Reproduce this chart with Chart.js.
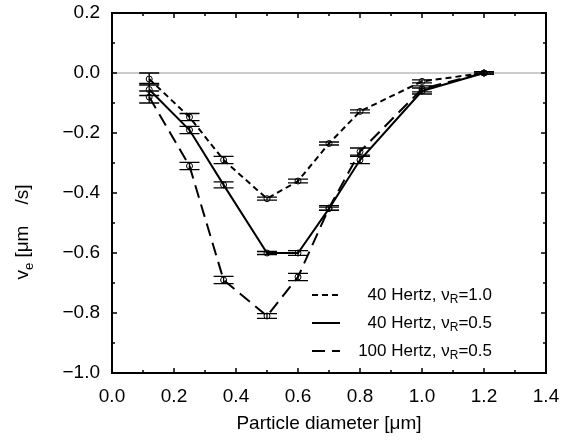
<!DOCTYPE html>
<html>
<head>
<meta charset="utf-8">
<script src="https://cdn.jsdelivr.net/npm/chart.js@4.4.1/dist/chart.umd.min.js"></script>
<style>
  html, body { margin: 0; padding: 0; background: #fff; }
  #wrap { width: 576px; height: 441px; }
</style>
</head>
<body>
<div id="wrap"><canvas id="chart" width="576" height="441"></canvas></div>
<script>
// particle diameter in micrometres
const diameter = [0.12, 0.25, 0.36, 0.5, 0.6, 0.7, 0.8, 1.0, 1.2];

// electrophoretic velocity, um/s
const v40Hz_10 = [-0.02, -0.147, -0.29, -0.419, -0.36, -0.235, -0.128, -0.028, 0.0];
const v40Hz_05 = [-0.055, -0.19, -0.373, -0.60, -0.60, -0.452, -0.29, -0.06, 0.0];
const v100Hz_05 = [-0.08, -0.31, -0.69, -0.81, -0.68, -0.45, -0.262, -0.053, 0.0];

// error half-widths
const err40Hz_10 = [0.02, 0.012, 0.012, 0.005, 0.006, 0.005, 0.005, 0.005, 0.004];
const err40Hz_05 = [0.02, 0.012, 0.01, 0.005, 0.008, 0.005, 0.012, 0.01, 0.004];
const err100Hz_05 = [0.02, 0.012, 0.012, 0.008, 0.012, 0.008, 0.012, 0.01, 0.004];

const seriesLabels = ['40 Hertz, ', '40 Hertz, ', '100 Hertz, '];
const seriesRatio = ['=1.0', '=0.5', '=0.5'];

const xTicks = [0.0, 0.2, 0.4, 0.6, 0.8, 1.0, 1.2, 1.4];
const yTicks = [0.2, 0.0, -0.2, -0.4, -0.6, -0.8, -1.0];

const FONT = '"Liberation Sans", Arial, Helvetica, sans-serif';

function pts(ys) {
  return diameter.map((d, i) => ({ x: d, y: ys[i] }));
}

const errors = [err40Hz_10, err40Hz_05, err100Hz_05];
const dashes = [[6, 4], [], [13, 7]];

const frame = {
  id: 'frame',
  beforeDatasetsDraw(chart) {
    const { ctx, chartArea: a, scales: { y } } = chart;
    ctx.save();
    ctx.strokeStyle = '#9a9a9a';
    ctx.lineWidth = 1.2;
    const y0 = y.getPixelForValue(0);
    ctx.beginPath();
    ctx.moveTo(a.left, y0);
    ctx.lineTo(a.right, y0);
    ctx.stroke();
    ctx.restore();
  },
  afterDatasetsDraw(chart) {
    const { ctx, chartArea: a, scales: { x, y } } = chart;
    ctx.save();
    // error bars
    ctx.strokeStyle = '#000';
    ctx.lineWidth = 1.3;
    chart.data.datasets.forEach((ds, k) => {
      ds.data.forEach((p, i) => {
        const px = x.getPixelForValue(p.x);
        const hi = y.getPixelForValue(p.y + errors[k][i]);
        const lo = y.getPixelForValue(p.y - errors[k][i]);
        ctx.beginPath();
        ctx.moveTo(px - 10, hi); ctx.lineTo(px + 10, hi);
        ctx.moveTo(px - 10, lo); ctx.lineTo(px + 10, lo);
        ctx.moveTo(px, hi); ctx.lineTo(px, lo);
        ctx.stroke();
      });
    });
    // box
    ctx.lineWidth = 2;
    ctx.strokeRect(a.left, a.top, a.right - a.left, a.bottom - a.top);
    // inward ticks, major and minor
    ctx.lineWidth = 1.5;
    ctx.beginPath();
    for (let v = 0; v <= 14; v++) {
      const px = x.getPixelForValue(v / 10);
      const len = v % 2 === 0 ? 5 : 3;
      ctx.moveTo(px, a.bottom); ctx.lineTo(px, a.bottom - len);
      ctx.moveTo(px, a.top); ctx.lineTo(px, a.top + len);
    }
    for (let v = -10; v <= 2; v++) {
      const py = y.getPixelForValue(v / 10);
      const len = v % 2 === 0 ? 5 : 3;
      ctx.moveTo(a.left, py); ctx.lineTo(a.left + len, py);
      ctx.moveTo(a.right, py); ctx.lineTo(a.right - len, py);
    }
    ctx.stroke();

    // axis titles
    ctx.fillStyle = '#000';
    ctx.font = '19px ' + FONT;
    ctx.textAlign = 'center';
    ctx.textBaseline = 'alphabetic';
    ctx.fillText('Particle diameter [\u03bcm]', (a.left + a.right) / 2, 429);

    ctx.save();
    ctx.translate(28, 232);
    ctx.rotate(-Math.PI / 2);
    ctx.textAlign = 'left';
    const parts = [['v', 19, 0], ['e', 13, 5], [' [\u03bcm    /s]', 19, 0]];
    let w = 0;
    parts.forEach(([t, s]) => { ctx.font = s + 'px ' + FONT; w += ctx.measureText(t).width; });
    let cx = -w / 2;
    parts.forEach(([t, s, dy]) => {
      ctx.font = s + 'px ' + FONT;
      ctx.fillText(t, cx, dy);
      cx += ctx.measureText(t).width;
    });
    ctx.restore();

    // legend
    const rightX = a.right - 54;
    const rows = [295, 323, 351];
    chart.data.datasets.forEach((ds, k) => {
      const ry = rows[k];
      const t1 = seriesLabels[k] + '\u03bd';
      const t3 = seriesRatio[k];
      ctx.font = '17px ' + FONT;
      const w1 = ctx.measureText(t1).width;
      const w3 = ctx.measureText(t3).width;
      ctx.font = '12px ' + FONT;
      const w2 = ctx.measureText('R').width;
      const tx = rightX - (w1 + w2 + w3);
      ctx.textAlign = 'left';
      ctx.textBaseline = 'middle';
      ctx.font = '17px ' + FONT;
      ctx.fillText(t1, tx, ry);
      ctx.font = '12px ' + FONT;
      ctx.fillText('R', tx + w1, ry + 5);
      ctx.font = '17px ' + FONT;
      ctx.fillText(t3, tx + w1 + w2, ry);
      ctx.setLineDash(dashes[k]);
      ctx.lineWidth = 2;
      ctx.beginPath();
      ctx.moveTo(312, ry);
      ctx.lineTo(340, ry);
      ctx.stroke();
      ctx.setLineDash([]);
    });
    ctx.restore();
  }
};

const common = {
  borderColor: '#000',
  borderWidth: 2,
  pointRadius: 3,
  pointBorderWidth: 1,
  pointBorderColor: '#000',
  pointBackgroundColor: 'rgba(0,0,0,0)',
  fill: false,
  tension: 0
};

new Chart(document.getElementById('chart'), {
  type: 'line',
  data: {
    datasets: [
      Object.assign({ label: '40 Hertz, vR=1.0', data: pts(v40Hz_10), borderDash: dashes[0] }, common),
      Object.assign({ label: '40 Hertz, vR=0.5', data: pts(v40Hz_05), borderDash: dashes[1] }, common),
      Object.assign({ label: '100 Hertz, vR=0.5', data: pts(v100Hz_05), borderDash: dashes[2] }, common)
    ]
  },
  options: {
    responsive: false,
    animation: false,
    layout: { padding: { left: 0, right: 30, top: 13, bottom: 0 } },
    plugins: { legend: { display: false }, tooltip: { enabled: false } },
    scales: {
      x: {
        type: 'linear',
        min: 0, max: 1.4,
        afterBuildTicks: s => { s.ticks = xTicks.map(v => ({ value: v })); },
        afterFit: s => { s.height = 68; s.paddingLeft = 0; s.paddingRight = 0; },
        grid: { display: false, drawTicks: false },
        border: { display: false },
        ticks: {
          color: '#000',
          padding: 12,
          maxRotation: 0,
          font: { family: FONT, size: 19 },
          callback: v => v.toFixed(1)
        }
      },
      y: {
        min: -1.0, max: 0.2,
        afterBuildTicks: s => { s.ticks = yTicks.map(v => ({ value: v })); },
        afterFit: s => { s.width = 112; s.paddingTop = 0; s.paddingBottom = 0; },
        grid: { display: false, drawTicks: false },
        border: { display: false },
        ticks: {
          color: '#000',
          padding: 12,
          font: { family: FONT, size: 19 },
          callback: v => (v < -0.001 ? '\u2212' + Math.abs(v).toFixed(1) : Math.abs(v).toFixed(1))
        }
      }
    }
  },
  plugins: [frame]
});
</script>
</body>
</html>
